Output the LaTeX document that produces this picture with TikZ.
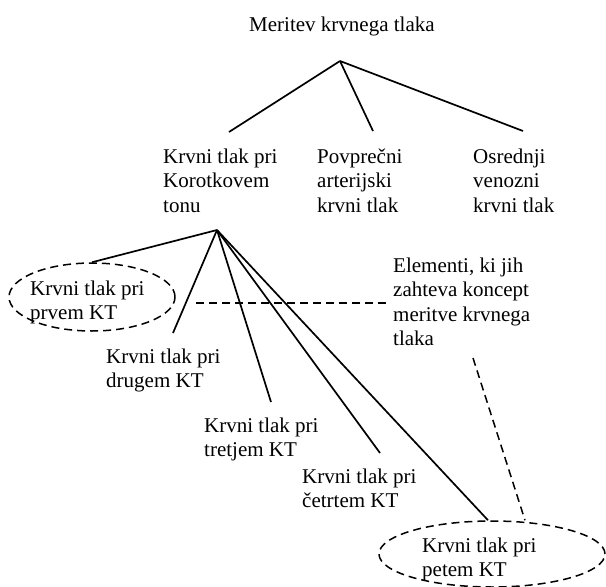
\documentclass[tikz,border=0pt]{standalone}
\usepackage{fontspec}
\setmainfont{Liberation Serif}
\usepackage{tikz}
\usetikzlibrary{shapes.geometric}

\tikzset{
  txt/.style={anchor=base west, inner sep=0pt, align=left, font=\fontsize{21}{24.5}\selectfont},
  oval/.style={draw, line width=1.5pt, dash pattern=on 8pt off 5pt, ellipse, inner sep=0pt},
  veja/.style={line width=1.7pt},
  crta/.style={line width=1.5pt, dash pattern=on 8pt off 5pt}
}

\begin{document}
\begin{tikzpicture}[x=1pt,y=-1pt]
\useasboundingbox (0,0) rectangle (606,587);

% prvi nivo (base = zadnja vrstica)
\node[txt] (meritev) at (249,31) {Meritev krvnega tlaka};
\coordinate (v1) at (340,61);

\node[txt] (korot) at (163,212) {Krvni tlak pri\\Korotkovem\\tonu};
\node[txt] (povpr) at (317,212) {Povprečni\\arterijski\\krvni tlak};
\node[txt] (osred) at (473,212) {Osrednji\\venozni\\krvni tlak};
\coordinate (k1) at (229,132); \coordinate (k2) at (373,131); \coordinate (k3) at (523,131);

\draw[veja] (v1) -- (k1); \draw[veja] (v1) -- (k2); \draw[veja] (v1) -- (k3);

% drugi nivo
\coordinate (v2) at (217,230);

\node[oval, minimum width=166pt, minimum height=68pt] (el1) at (92,297) {};
\node[txt] (prvi) at (30,319.5) {Krvni tlak pri\\prvem KT};
\node[txt] (drugi) at (106,387.5) {Krvni tlak pri\\drugem KT};
\node[txt] (tretji) at (204,456.5) {Krvni tlak pri\\tretjem KT};
\node[txt] (cetrti) at (302,507.5) {Krvni tlak pri\\četrtem KT};
\node[oval, minimum width=226pt, minimum height=66pt] (el5) at (492,554) {};
\node[txt] (peti) at (422,576.5) {Krvni tlak pri\\petem KT};

\coordinate (t2) at (173,333); \coordinate (t3) at (271,402); \coordinate (t4) at (380,453);

\draw[veja] (v2) -- (el1.north); \draw[veja] (v2) -- (t2); \draw[veja] (v2) -- (t3);
\draw[veja] (v2) -- (t4); \draw[veja] (v2) -- ([xshift=-4pt]el5.north);

% koncept
\node[txt] (elem) at (393,345.5) {Elementi, ki jih\\zahteva koncept\\meritve krvnega\\tlaka};
\coordinate (d1) at (196,303); \coordinate (d2) at (387,303); \coordinate (d3) at (473,358);

\draw[crta] (d1) -- (d2);
\draw[crta] (d3) -- ([xshift=33pt]el5.north);

\end{tikzpicture}
\end{document}
